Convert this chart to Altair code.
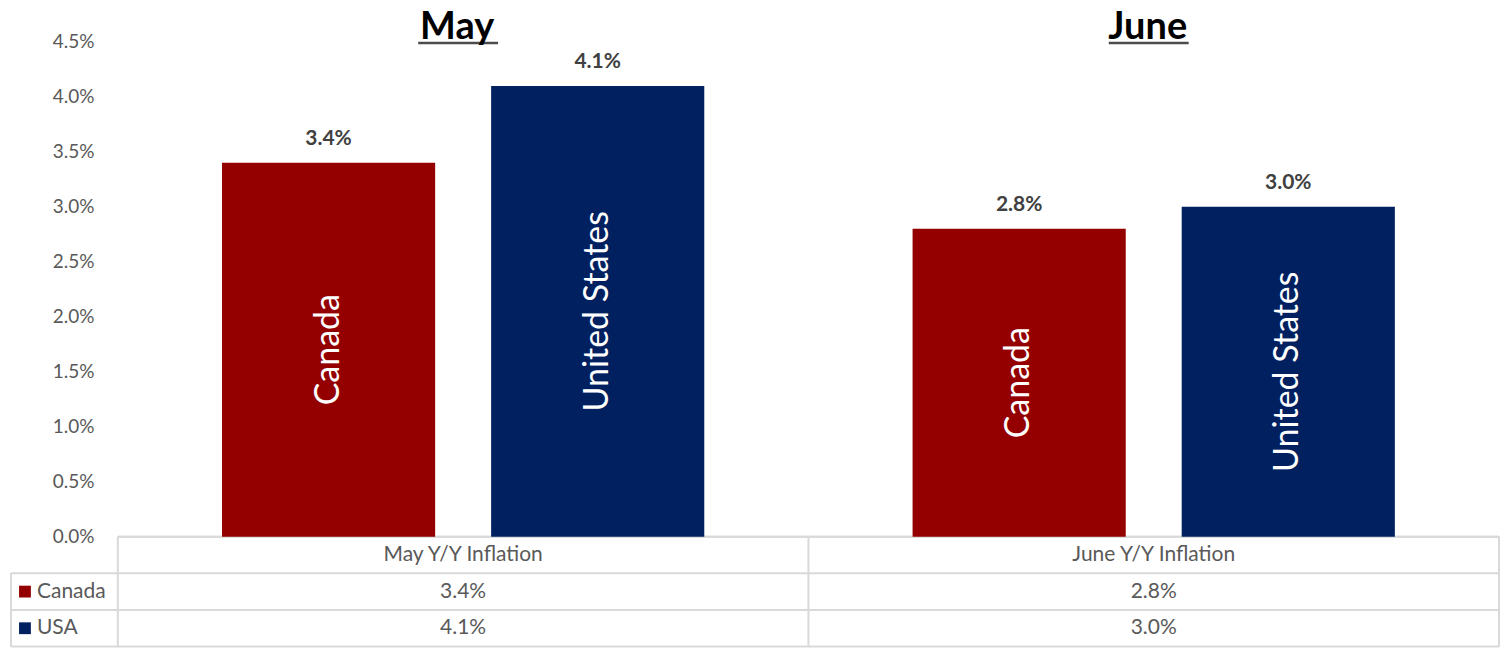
import altair as alt
import pandas as pd

# ---- data ----
months = ["May", "June"]
periods = ["May Y/Y Inflation", "June Y/Y Inflation"]
countries = ["Canada", "United States"]
table_names = ["Canada", "USA"]
canada = [3.4, 2.8]
usa = [4.1, 3.0]
y_ticks = [0.0, 0.5, 1.0, 1.5, 2.0, 2.5, 3.0, 3.5, 4.0, 4.5]
colors = ["#940000", "#002060"]

rows = []
for i, p in enumerate(periods):
    rows.append({"period": p, "country": countries[0], "name": table_names[0], "value": canada[i], "row": 0})
    rows.append({"period": p, "country": countries[1], "name": table_names[1], "value": usa[i], "row": 1})
df = pd.DataFrame(rows)
titles_df = pd.DataFrame({"period": periods, "month": months})
legend_df = pd.DataFrame({"name": table_names, "country": countries, "row": [0, 1]})

W = 1383
H = 644
FONT = "Lato"
GRID = "#d9d9d9"
TXT = "#595959"

x_enc = alt.X("period:N", sort=periods, scale=alt.Scale(paddingInner=0, paddingOuter=0), axis=None)
y_scale = alt.Scale(domain=[-1.0, 4.85], nice=False, zero=False)
color_enc = alt.Color("country:N", scale=alt.Scale(domain=countries, range=colors), legend=None)
xoff = alt.XOffset("country:N", sort=countries, scale=alt.Scale(paddingInner=0.208, paddingOuter=0.387))

base = alt.Chart(df)

bars = base.mark_bar().encode(
    x=x_enc,
    xOffset=xoff,
    y=alt.Y("value:Q", scale=y_scale,
            axis=alt.Axis(values=y_ticks, labelExpr="format(datum.value, '.1f') + '%'",
                          domain=False, ticks=False, grid=False, title=None,
                          labelPadding=24, labelFontSize=19, labelColor=TXT, labelFont=FONT)),
    color=color_enc,
)

value_labels = base.transform_calculate(label="format(datum.value, '.1f') + '%'").mark_text(
    font=FONT, fontSize=21, fontWeight="bold", color="#404040",
    baseline="alphabetic", dy=-18).encode(
    x=x_enc, xOffset=xoff, y=alt.Y("value:Q", scale=y_scale), text="label:N")

inside_labels = base.transform_calculate(mid="datum.value / 2").mark_text(
    font=FONT, fontSize=34, color="white", angle=270, align="center", baseline="middle").encode(
    x=x_enc, xOffset=xoff, y=alt.Y("mid:Q", scale=y_scale), text="country:N")

titles = alt.Chart(titles_df).mark_text(font=FONT, fontSize=38, fontWeight="bold", color="black",
                                        baseline="alphabetic", dx=-6).encode(
    x=x_enc, y=alt.datum(4.527, scale=y_scale), text="month:N")
underline = alt.Chart(titles_df).mark_tick(size=80, thickness=2.5, color="black", xOffset=-5).encode(
    x=x_enc, y=alt.datum(4.49, scale=y_scale))

# ---- data table ----
header = alt.Chart(titles_df).mark_text(font=FONT, fontSize=21, color=TXT, baseline="middle").encode(
    x=x_enc, y=alt.datum(-1 / 6, scale=y_scale), text="period:N")
cells = base.transform_calculate(
    label="format(datum.value, '.1f') + '%'", ry="-0.5 - datum.row / 3"
).mark_text(font=FONT, fontSize=21, color=TXT, baseline="middle").encode(
    x=x_enc, y=alt.Y("ry:Q", scale=y_scale), text="label:N")

leg_sq = alt.Chart(legend_df).transform_calculate(ry="-0.5 - datum.row / 3").mark_square(
    size=140, opacity=1).encode(
    x=alt.value(-93), y=alt.Y("ry:Q", scale=y_scale), color=color_enc)
leg_txt = alt.Chart(legend_df).transform_calculate(ry="-0.5 - datum.row / 3").mark_text(
    font=FONT, fontSize=21, color=TXT, align="left", baseline="middle").encode(
    x=alt.value(-81), y=alt.Y("ry:Q", scale=y_scale), text="name:N")

line_kw = dict(color=GRID, strokeWidth=2)
hline_top = alt.Chart(titles_df).mark_rule(**line_kw).encode(
    x=alt.value(0), x2=alt.value(W), y=alt.datum(0, scale=y_scale))
hlines = alt.Chart(pd.DataFrame({"yy": [-1 / 3, -2 / 3, -1.0]})).mark_rule(**line_kw).encode(
    x=alt.value(-107), x2=alt.value(W), y=alt.Y("yy:Q", scale=y_scale))
vcols = alt.Chart(titles_df).mark_rule(**line_kw).encode(
    x=alt.X("period:N", sort=periods, bandPosition=0, scale=alt.Scale(paddingInner=0, paddingOuter=0), axis=None),
    y=alt.datum(0, scale=y_scale), y2=alt.datum(-1.0))
vright = alt.Chart(titles_df).mark_rule(**line_kw).encode(
    x=alt.value(W), y=alt.datum(0, scale=y_scale), y2=alt.datum(-1.0))
vleft = alt.Chart(titles_df).mark_rule(**line_kw).encode(
    x=alt.value(-107), y=alt.datum(-1 / 3, scale=y_scale), y2=alt.datum(-1.0))

chart = alt.layer(
    hline_top, hlines, vcols, vright, vleft,
    bars, value_labels, inside_labels, titles, underline,
    header, cells, leg_sq, leg_txt,
).properties(
    width=W, height=H,
    padding={"left": 10, "top": 3, "right": 5, "bottom": 3},
    background="white",
).configure_view(stroke=None)

chart.save("out.html", embed_options={"renderer": "svg", "actions": False})
